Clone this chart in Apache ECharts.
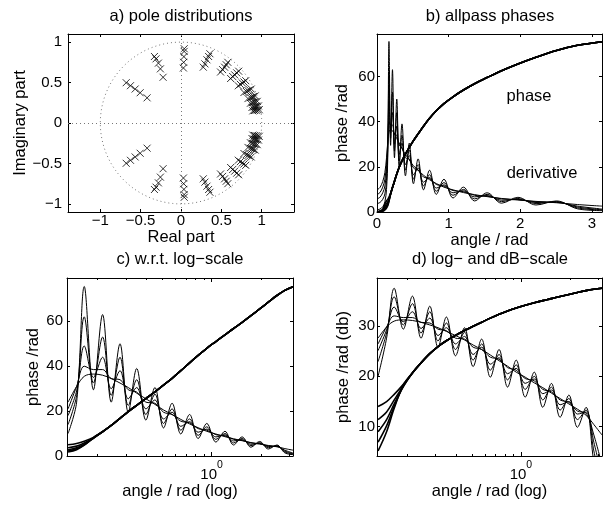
<!DOCTYPE html>
<html>
<head>
<meta charset="utf-8">
<script src="https://cdn.jsdelivr.net/npm/echarts@6/dist/echarts.min.js"></script>
<style>
html, body { margin: 0; padding: 0; background: #fff; }
#chart { width: 603px; height: 507px; }
</style>
</head>
<body>
<div id="chart"></div>
<script>
// poles, upper half plane (the lower half are the conjugates)
var polesUpper = [
    [-0.679, 0.498], [-0.626, 0.461], [-0.568, 0.420], [-0.506, 0.374], [-0.420, 0.311],
    [-0.329, 0.822], [-0.309, 0.793], [-0.280, 0.740], [-0.255, 0.669], [-0.222, 0.565],
    [0.040, 0.918], [0.039, 0.885], [0.036, 0.820], [0.033, 0.750], [0.030, 0.680],
    [0.358, 0.856], [0.342, 0.822], [0.321, 0.781], [0.296, 0.731], [0.276, 0.690],
    [0.580, 0.750], [0.560, 0.720], [0.540, 0.690], [0.515, 0.660], [0.490, 0.630],
    [0.715, 0.640], [0.690, 0.620], [0.665, 0.595], [0.640, 0.575], [0.615, 0.550],
    [0.802, 0.523], [0.780, 0.507], [0.760, 0.494], [0.735, 0.478], [0.710, 0.460],
    [0.870, 0.420], [0.850, 0.410], [0.830, 0.400], [0.810, 0.390], [0.780, 0.377],
    [0.920, 0.335], [0.900, 0.328], [0.880, 0.320], [0.860, 0.313], [0.830, 0.302],
    [0.945, 0.268], [0.925, 0.262], [0.905, 0.257], [0.885, 0.251], [0.860, 0.244],
    [0.960, 0.211], [0.940, 0.207], [0.920, 0.202], [0.900, 0.198], [0.880, 0.193],
    [0.970, 0.164], [0.950, 0.161], [0.930, 0.157], [0.910, 0.154], [0.890, 0.150]
];

// angle grid (rad): start, then peaks / troughs of the derivative
var angle = [0, 0.04, 0.08, 0.11, 0.133, 0.150, 0.167, 0.190, 0.216, 0.244, 0.276, 0.310,
    0.349, 0.397, 0.451, 0.509, 0.574, 0.649, 0.734, 0.828, 0.935, 1.062, 1.207, 1.362,
    1.537, 1.739, 1.967, 2.220, 2.506, 2.80, 3.1416];

// phase derivatives, from sharpest to smoothest
var deriv1 = [1.0, 1.3, 2.3, 4.5, 10, 24, 75.5, 29.5, 63, 24, 50, 19.5, 39, 16, 30.5, 12.5, 23.5, 9.8, 18.5, 7.8, 14.5, 6.2, 11, 4.9, 8.5, 3.9, 6.5, 3.1, 4.9, 1.4, 0.6];
var deriv2 = [3.7, 4.2, 5.6, 8.0, 14, 27, 62, 32.5, 53, 27, 44, 22.5, 34, 18.5, 27.5, 14.5, 21, 11.5, 16.5, 9.2, 13, 7.4, 10, 5.8, 7.8, 4.6, 6.0, 3.7, 4.6, 1.8, 0.8];
var deriv3 = [5.8, 6.5, 8.5, 11.5, 18, 29, 49, 35, 44, 30, 38, 25.5, 30.5, 21, 25, 16.5, 19.5, 13.2, 15.3, 10.6, 12, 8.5, 9.4, 6.7, 7.3, 5.2, 5.6, 4.2, 4.4, 2.2, 1.0];
var deriv4 = [7.7, 8.6, 11, 14.5, 21, 31, 40, 38.5, 38.5, 34.5, 34, 29.5, 28.5, 24, 23.5, 19.5, 18.5, 15.5, 14.8, 12.2, 11.5, 9.5, 9.0, 7.4, 7.0, 5.8, 5.5, 4.5, 4.3, 2.6, 1.3];
var deriv5 = [9.8, 10.8, 13.5, 17.5, 24, 31, 35.5, 36.5, 36, 34.5, 32.5, 30.5, 28, 25.5, 23, 20.5, 18.5, 16.3, 14.3, 12.6, 11, 9.8, 8.6, 7.7, 6.8, 6.0, 5.3, 4.7, 4.1, 3.3, 2.6];

// phases: they differ only at low angles
var phaseHead1 = [0, 0.1, 0.3, 0.9, 1.8, 2.8, 4.8, 8.2];
var phaseHead2 = [0, 0.15, 0.45, 1.3, 2.2, 3.2, 5.0, 8.0];
var phaseHead3 = [0, 0.25, 0.65, 1.8, 2.8, 3.7, 5.3, 7.9];
var phaseHead4 = [0, 0.35, 0.9, 2.6, 3.7, 4.4, 5.8, 8.0];
var phaseHead5 = [0, 0.45, 1.2, 3.6, 5.0, 5.6, 6.6, 8.3];
var phaseTail = [10.8, 13.6, 16.8, 19.8, 22.6, 25.6, 28.6, 31.6, 34.6, 38.0, 41.5, 44.8,
    48.0, 51.0, 54.0, 56.8, 59.5, 62.5, 65.5, 68.5, 71.5, 73.8, 75.4];

// tick values
var poleTicks = [-1, -0.5, 0, 0.5, 1];
var phaseTicks = [0, 20, 40, 60];
var angleTicks = [0, 1, 2, 3];
var dbTicks = [10, 20, 30];
var logMajor = [1];
var logMinor = [0.2, 0.3, 0.4, 0.5, 0.6, 0.7, 0.8, 0.9, 2, 3];

var FONT = '"Liberation Sans", Arial, sans-serif';

var derivs = [deriv1, deriv2, deriv3, deriv4, deriv5];
var phases = [phaseHead1, phaseHead2, phaseHead3, phaseHead4, phaseHead5].map(function(h) {
    return h.concat(phaseTail);
});

function toDb(v) {
    return 20 * Math.log(v) / Math.LN10;
}

function pairs(ys, from, db) {
    var out = [];
    for (var i = from; i < angle.length; i++) {
        out.push([angle[i], db ? toDb(ys[i]) : ys[i]]);
    }
    return out;
}

function minus(v) {
    return String(v).replace('-', '\u2212');
}

var xAxes = [];
var yAxes = [];

function addAxis(list, o) {
    var ax = {
        gridIndex: o.grid,
        type: o.type || 'value',
        min: o.min,
        max: o.max,
        position: o.pos,
        axisLine: {show: o.line !== false, onZero: false, lineStyle: {color: '#000', width: 1}},
        axisTick: {show: true, inside: true, length: o.tickLen || 3, customValues: o.ticks,
            lineStyle: {color: '#000', width: 1}},
        axisLabel: {show: false},
        splitLine: {show: false},
        minorTick: {show: false},
        silent: true
    };
    if (o.type === 'log') ax.logBase = 10;
    if (o.label) {
        ax.axisLabel = {show: true, customValues: o.ticks, color: '#000', fontFamily: FONT,
            fontSize: 15, margin: o.margin, formatter: o.formatter || minus, rich: o.rich};
    }
    if (o.name) {
        ax.name = o.name;
        ax.nameLocation = 'middle';
        ax.nameGap = o.nameGap;
        ax.nameRotate = o.nameRotate;
        ax.nameTextStyle = {color: '#000', fontFamily: FONT, fontSize: 16.5};
    }
    list.push(ax);
    return list.length - 1;
}

// a) poles
var ax = addAxis(xAxes, {grid: 0, min: -1.4, max: 1.4, pos: 'bottom', ticks: poleTicks, label: true,
    margin: 1, name: 'Real part', nameGap: 17});
addAxis(xAxes, {grid: 0, min: -1.4, max: 1.4, pos: 'top', ticks: poleTicks});
var ay = addAxis(yAxes, {grid: 0, min: -1.1, max: 1.1, pos: 'left', ticks: poleTicks, label: true,
    margin: 6, name: 'Imaginary part', nameGap: 36, nameRotate: 90});
addAxis(yAxes, {grid: 0, min: -1.1, max: 1.1, pos: 'right', ticks: poleTicks});

// b) linear angle
var bx = addAxis(xAxes, {grid: 1, min: 0, max: Math.PI, pos: 'bottom', ticks: angleTicks, label: true,
    margin: 4, name: 'angle / rad', nameGap: 19});
addAxis(xAxes, {grid: 1, min: 0, max: Math.PI, pos: 'top', ticks: angleTicks});
var by = addAxis(yAxes, {grid: 1, min: 0, max: 78.8, pos: 'left', ticks: phaseTicks, label: true,
    margin: 2, name: 'phase /rad', nameGap: 26, nameRotate: 90});
addAxis(yAxes, {grid: 1, min: 0, max: 78.8, pos: 'right', ticks: phaseTicks});

var powRich = {
    b: {fontSize: 15, fontFamily: FONT, color: '#000', lineHeight: 22, verticalAlign: 'bottom'},
    s: {fontSize: 10.5, fontFamily: FONT, color: '#000', lineHeight: 10, verticalAlign: 'top'}
};
function powLabel() {
    return '{b|10}{s|0}';
}

// c) and d) log angle
var logX = [];
[2, 3].forEach(function(g) {
    logX.push(addAxis(xAxes, {grid: g, type: 'log', min: 0.131, max: Math.PI, pos: 'bottom', ticks: logMajor,
        label: true, margin: 4, formatter: powLabel, rich: powRich, tickLen: 4,
        name: 'angle / rad (log)', nameGap: 23}));
    addAxis(xAxes, {grid: g, type: 'log', min: 0.131, max: Math.PI, pos: 'bottom', ticks: logMinor, tickLen: 2, line: false});
    addAxis(xAxes, {grid: g, type: 'log', min: 0.131, max: Math.PI, pos: 'top', ticks: logMajor, tickLen: 4});
    addAxis(xAxes, {grid: g, type: 'log', min: 0.131, max: Math.PI, pos: 'top', ticks: logMinor, tickLen: 2, line: false});
});
var cy = addAxis(yAxes, {grid: 2, min: 0, max: 79.3, pos: 'left', ticks: phaseTicks, label: true,
    margin: 4, name: 'phase /rad', nameGap: 24, nameRotate: 90});
addAxis(yAxes, {grid: 2, min: 0, max: 79.3, pos: 'right', ticks: phaseTicks});
var dy = addAxis(yAxes, {grid: 3, min: 4.1, max: 39.6, pos: 'left', ticks: dbTicks, label: true,
    margin: 2, name: 'phase /rad (db)', nameGap: 25, nameRotate: 90});
addAxis(yAxes, {grid: 3, min: 4.1, max: 39.6, pos: 'right', ticks: dbTicks});

var series = [];

// unit circle reference
var circle = [];
for (var i = 0; i <= 120; i++) {
    var t = i / 120 * 2 * Math.PI;
    circle.push([Math.cos(t), Math.sin(t)]);
}
var dotted = {color: '#777', width: 1, type: [1, 3]};
series.push({
    type: 'line', xAxisIndex: ax, yAxisIndex: ay, data: circle, showSymbol: false,
    lineStyle: dotted, silent: true
});

var poles = polesUpper.concat(polesUpper.map(function(p) { return [p[0], -p[1]]; }));
series.push({
    type: 'scatter', xAxisIndex: ax, yAxisIndex: ay, data: poles,
    symbol: 'path://M0,0L10,10M0,10L10,0', symbolSize: 7,
    itemStyle: {color: 'rgba(0,0,0,0)', borderColor: '#000', borderWidth: 1},
    markLine: {
        silent: true, symbol: ['none', 'none'], label: {show: false},
        lineStyle: dotted,
        data: [{xAxis: 0}, {yAxis: 0}]
    }
});

function addCurves(xi, yi, from, db) {
    derivs.forEach(function(d) {
        series.push({type: 'line', xAxisIndex: xi, yAxisIndex: yi, data: pairs(d, from, db),
            showSymbol: false, smooth: 0.35, lineStyle: {color: '#000', width: 1}});
    });
    phases.forEach(function(p) {
        series.push({type: 'line', xAxisIndex: xi, yAxisIndex: yi, data: pairs(p, from, db),
            showSymbol: false, smooth: 0.35, lineStyle: {color: '#000', width: 1.6}});
    });
}
addCurves(bx, by, 0, false);
addCurves(logX[0], cy, 4, false);
addCurves(logX[1], dy, 4, true);

function text(x, y, s) {
    return {type: 'text', x: x, y: y, silent: true,
        style: {text: s, fill: '#000', font: '16.5px ' + FONT, textAlign: 'center', textVerticalAlign: 'middle'}};
}

var chart = echarts.init(document.getElementById('chart'), null, {renderer: 'canvas'});
chart.setOption({
    animation: false,
    backgroundColor: '#fff',
    grid: [
        {left: 68, top: 34, width: 226, height: 178, outerBoundsMode: 'none'},
        {left: 377, top: 34, width: 225, height: 178, outerBoundsMode: 'none'},
        {left: 67, top: 278, width: 226, height: 178, outerBoundsMode: 'none'},
        {left: 377, top: 278, width: 225, height: 178, outerBoundsMode: 'none'}
    ],
    xAxis: xAxes,
    yAxis: yAxes,
    series: series,
    graphic: [
        text(181, 16, 'a) pole distributions'),
        text(490, 16, 'b) allpass phases'),
        text(180, 259, 'c) w.r.t. log\u2212scale'),
        text(490, 259, 'd) log\u2212 and dB\u2212scale'),
        text(529, 96, 'phase'),
        text(542, 173, 'derivative')
    ]
});
</script>
</body>
</html>
